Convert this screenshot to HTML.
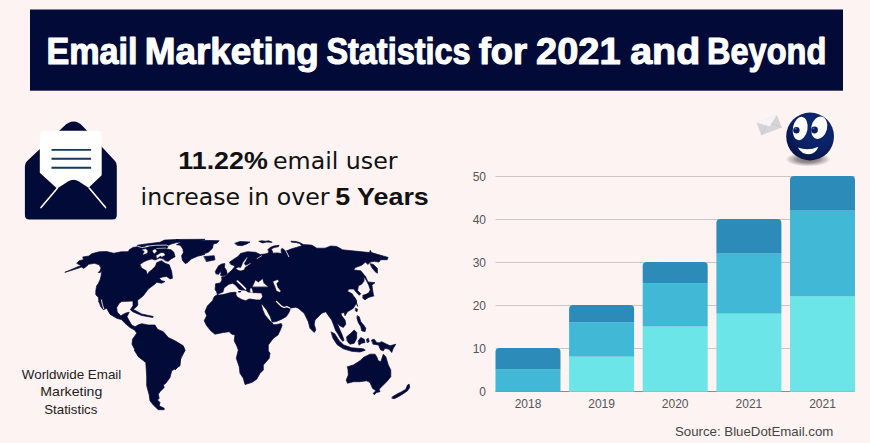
<!DOCTYPE html>
<html lang="en"><head><meta charset="utf-8"><title>Email Marketing Statistics for 2021 and Beyond</title>
<style>
html,body{margin:0;padding:0;background:#fdf3f2;}
body{width:870px;height:443px;overflow:hidden;}
svg{display:block;}
text{white-space:pre;}
</style></head><body>
<svg width="870" height="443" viewBox="0 0 870 443">
<rect width="870" height="443" fill="#fdf3f2"/>
<rect x="30" y="9.5" width="813" height="81.2" fill="#020a38"/>
<text x="46.4" y="64.3" font-family='"Liberation Sans", sans-serif' font-size="37.3" font-weight="bold" fill="#ffffff" text-anchor="start" textLength="91.2" lengthAdjust="spacingAndGlyphs" stroke="#ffffff" stroke-width="1.1" stroke-linejoin="round">Email</text>
<text x="144.7" y="64.3" font-family='"Liberation Sans", sans-serif' font-size="37.3" font-weight="bold" fill="#ffffff" text-anchor="start" textLength="174.2" lengthAdjust="spacingAndGlyphs" stroke="#ffffff" stroke-width="1.1" stroke-linejoin="round">Marketing</text>
<text x="326.4" y="64.3" font-family='"Liberation Sans", sans-serif' font-size="37.3" font-weight="bold" fill="#ffffff" text-anchor="start" textLength="144.2" lengthAdjust="spacingAndGlyphs" stroke="#ffffff" stroke-width="1.1" stroke-linejoin="round">Statistics</text>
<text x="478.7" y="64.3" font-family='"Liberation Sans", sans-serif' font-size="37.3" font-weight="bold" fill="#ffffff" text-anchor="start" textLength="48.5" lengthAdjust="spacingAndGlyphs" stroke="#ffffff" stroke-width="1.1" stroke-linejoin="round">for</text>
<text x="536.1" y="64.3" font-family='"Liberation Sans", sans-serif' font-size="37.3" font-weight="bold" fill="#ffffff" text-anchor="start" textLength="84.5" lengthAdjust="spacingAndGlyphs" stroke="#ffffff" stroke-width="1.1" stroke-linejoin="round">2021</text>
<text x="630.2" y="64.3" font-family='"Liberation Sans", sans-serif' font-size="37.3" font-weight="bold" fill="#ffffff" text-anchor="start" textLength="70.0" lengthAdjust="spacingAndGlyphs" stroke="#ffffff" stroke-width="1.1" stroke-linejoin="round">and</text>
<text x="707.0" y="64.3" font-family='"Liberation Sans", sans-serif' font-size="37.3" font-weight="bold" fill="#ffffff" text-anchor="start" textLength="119.4" lengthAdjust="spacingAndGlyphs" stroke="#ffffff" stroke-width="1.1" stroke-linejoin="round">Beyond</text>
<text x="178.3" y="169.4" font-family='"Liberation Sans", sans-serif' font-size="24" font-weight="bold" fill="#111" text-anchor="start" textLength="89.5" lengthAdjust="spacingAndGlyphs">11.22%</text>
<text x="273" y="169.4" font-family='"DejaVu Sans", "Liberation Sans", sans-serif' font-size="23.3" font-weight="normal" fill="#111" text-anchor="start" textLength="124.5" lengthAdjust="spacingAndGlyphs">email user</text>
<text x="140.6" y="204.7" font-family='"DejaVu Sans", "Liberation Sans", sans-serif' font-size="23.3" font-weight="normal" fill="#111" text-anchor="start" textLength="188.8" lengthAdjust="spacingAndGlyphs">increase in over</text>
<text x="335.2" y="204.7" font-family='"Liberation Sans", sans-serif' font-size="24" font-weight="bold" fill="#111" text-anchor="start" textLength="93.6" lengthAdjust="spacingAndGlyphs">5 Years</text>
<text x="21.8" y="379.2" font-family='"Liberation Sans", sans-serif' font-size="13" font-weight="normal" fill="#222" text-anchor="start" textLength="99.5" lengthAdjust="spacingAndGlyphs">Worldwide Email</text>
<text x="40.3" y="396.1" font-family='"Liberation Sans", sans-serif' font-size="13" font-weight="normal" fill="#222" text-anchor="start" textLength="62" lengthAdjust="spacingAndGlyphs">Marketing</text>
<text x="44.2" y="414" font-family='"Liberation Sans", sans-serif' font-size="13" font-weight="normal" fill="#222" text-anchor="start" textLength="53.2" lengthAdjust="spacingAndGlyphs">Statistics</text>
<text x="675" y="436.2" font-family='"Liberation Sans", sans-serif' font-size="13.2" font-weight="normal" fill="#444" text-anchor="start" textLength="158.3" lengthAdjust="spacingAndGlyphs">Source: BlueDotEmail.com</text>
<g>
<path fill="#020a38" d="M24.9,166 Q24.9,163.2 26.9,161.3 L64,126.2 Q68.85,121.6 73.5,121.6 Q78.57,121.6 83,126.4 L115,161 Q116.8,163 116.8,166 V214.9 Q116.8,219.4 112.3,219.4 H29.4 Q24.9,219.4 24.9,214.9 Z"/>
<path fill="#ffffff" d="M39.8,135.8 Q39.8,130.8 44.8,130.8 H96.7 Q101.7,130.8 101.7,135.8 V175.3 L72.7,202.8 L39.8,172.7 Z"/>
<path fill="#020a38" d="M40.7,207.9 L57.1,188.5 L68,181.4 Q73.45,177.9 78.9,181.4 L89.3,188.2 L105.8,207.9 V212 H40.7 Z"/>
<path fill="none" stroke="#ffffff" stroke-width="1.6" stroke-linecap="round" d="M41,207.6 L57.3,188.3 M89.2,188 L105.6,207.6"/>
<g stroke="#12395e" stroke-width="1.9"><path d="M51.5,149.9 H91.1 M51.5,158.8 H91.1 M51.5,167.8 H91.1"/></g>
</g>
<g stroke-linejoin="round" stroke-linecap="round">
<path fill="#020a38" stroke="#020a38" stroke-width="0.7" d="M65.2,272.2 78.0,266.7 81.2,265.7 76.7,263.3 79.3,260.7 83.5,259.7 82.7,257.0 89.0,256.0 91.8,253.7 99.2,251.8 106.5,251.5 113.8,253.3 121.2,251.8 128.3,251.7 129.2,249.8 133.3,247.3 137.0,247.0 137.4,245.2 148.0,243.7 159.9,242.3 164.5,240.1 176.5,239.5 181.8,240.6 182.0,241.9 176.5,242.6 171.0,244.1 168.2,245.4 167.5,247.6 165.5,248.7 171.0,249.8 173.7,252.1 175.1,256.7 171.0,259.0 168.2,261.3 165.5,260.8 163.6,259.2 158.3,260.3 161.7,260.7 165.0,263.2 169.2,264.8 171.7,271.5 172.5,278.2 170.0,279.0 166.7,276.5 162.5,277.0 159.2,278.2 161.7,280.7 165.0,281.5 161.7,283.2 156.7,282.3 155.0,284.0 148.3,289.0 143.3,295.7 138.3,299.8 137.5,300.0 137.8,305.0 135.8,307.5 133.0,309.3 141.7,314.0 153.3,316.5 152.8,317.5 141.7,315.5 133.3,312.0 130.3,309.7 133.0,305.8 133.0,300.8 133.0,301.0 121.7,301.5 119.2,303.3 116.7,307.5 117.2,312.0 120.8,315.8 125.3,313.2 129.2,312.2 127.0,316.7 129.2,320.8 131.7,325.0 135.0,326.7 138.3,325.0 141.7,325.0 136.7,329.2 135.0,330.3 130.0,327.5 125.0,323.3 121.7,319.7 116.7,318.3 110.0,314.2 106.7,308.3 103.3,309.7 100.8,306.7 98.7,300.8 99.2,302.3 98.3,297.3 95.8,294.8 95.8,290.7 96.7,285.7 98.2,283.7 100.0,280.0 101.0,276.3 101.8,271.0 100.0,272.7 98.2,272.5 100.0,270.7 101.0,268.0 99.2,264.8 94.5,263.3 88.5,264.3 86.7,266.2 83.5,268.5 81.7,267.0 73.3,269.8Z M176.5,239.5 205.0,239.3 200.0,240.3 219.2,240.7 216.7,243.2 213.3,244.0 212.5,248.2 208.3,252.3 203.3,254.0 205.0,254.4 197.6,256.2 191.2,259.0 187.5,262.7 185.2,263.6 182.5,260.4 181.6,255.8 183.4,252.6 182.9,248.9 180.2,245.2 176.5,244.7 181.6,242.0Z M204.2,256.5 214.2,255.7 215.0,259.8 206.7,261.5Z M235.0,243.2 240.0,241.5 250.0,242.0 246.7,244.0 241.7,245.7 237.5,245.3Z M259.1,241.5 262.6,242.9 266.7,242.1 272.2,242.3 268.8,240.8 265.3,241.2 261.9,240.8Z M215.4,271.3 218.6,265.8 221.7,264.0 224.9,263.6 224.4,267.2 226.2,269.9 227.1,273.1 226.7,274.4 224.4,275.8 221.7,276.1 220.5,275.3 221.1,273.1 220.2,271.5 218.7,274.2 216.3,274.0Z M138.3,325.0 141.7,323.7 148.3,325.0 155.0,325.0 157.5,329.2 163.3,331.7 168.3,337.5 175.0,340.8 183.3,345.8 185.0,350.0 182.5,355.0 180.0,360.0 179.2,365.8 175.0,370.0 185.0,350.0 180.8,356.7 180.0,365.8 171.7,370.8 170.0,377.5 165.8,383.3 163.3,385.0 164.2,387.5 160.0,391.7 158.3,394.2 159.2,398.3 157.5,400.0 160.0,402.5 159.2,405.8 164.2,408.3 164.2,409.7 158.3,409.7 153.3,405.0 150.0,400.8 149.2,395.0 146.7,385.8 146.7,376.7 145.8,362.5 138.3,356.7 134.2,350.0 135.0,350.0 132.0,344.2 132.5,339.2 136.7,333.3 135.0,330.3Z M229.7,262.1 233.7,259.2 238.3,256.3 240.6,253.4 247.5,251.7 255.6,252.3 260.2,254.6 264.8,254.0 268.1,253.2 268.8,251.5 267.8,249.8 269.8,247.7 273.6,246.0 279.1,245.3 278.4,246.7 274.3,247.4 271.2,249.1 272.2,250.8 272.9,253.2 277.8,252.9 281.6,253.6 281.2,251.2 281.2,249.1 282.6,248.4 285.7,251.2 290.9,249.1 296.4,247.4 301.9,245.7 299.8,243.6 296.4,242.6 291.6,242.2 290.9,241.2 296.4,241.5 300.5,242.9 303.3,244.6 310.2,245.0 312.2,245.3 316.7,248.2 325.0,248.2 330.8,246.0 336.7,246.5 341.7,249.3 339.5,249.5 369.5,252.6 370.3,250.3 371.4,252.6 388.1,257.4 387.2,259.7 380.6,259.7 379.0,262.1 374.2,261.3 370.3,262.1 367.9,264.5 365.5,262.1 361.6,265.3 355.3,267.6 353.7,270.0 360.8,270.8 364.0,274.8 364.0,281.1 361.6,284.2 358.4,285.8 357.6,290.6 360.8,293.7 359.2,295.3 356.1,292.1 353.7,289.0 349.0,289.0 347.4,291.3 352.1,293.7 355.3,299.2 357.6,306.4 354.2,296.7 356.7,300.8 355.8,304.2 353.3,308.3 347.5,311.7 345.0,315.8 344.2,312.5 340.8,313.3 341.7,315.8 345.0,320.0 345.8,324.2 343.3,327.5 340.0,325.8 337.0,323.3 339.5,328.8 342.3,335.3 344.0,340.3 342.7,341.3 340.0,337.7 338.0,334.0 335.7,330.7 334.0,326.0 331.7,320.0 329.2,316.7 325.8,311.7 321.7,313.3 315.0,320.0 314.2,324.2 315.8,330.0 314.2,332.5 310.0,328.3 308.3,321.7 304.2,313.3 298.3,308.3 293.3,306.3 295.2,307.2 290.2,308.2 289.7,310.8 288.4,313.5 286.1,316.7 281.2,319.4 276.2,321.6 272.1,322.1 270.3,316.7 266.7,309.9 261.9,304.0 261.2,304.0 262.6,309.5 264.9,314.9 269.4,320.3 273.9,324.8 277.1,324.4 281.2,323.5 282.1,325.3 280.7,329.3 278.0,335.0 273.3,338.3 268.3,345.0 268.3,350.8 270.0,353.3 269.2,358.3 263.3,365.0 263.3,370.0 260.0,373.3 256.7,379.2 251.7,382.5 245.0,384.5 243.3,378.3 240.0,373.3 239.2,366.7 236.3,358.3 238.3,350.0 236.7,345.8 234.2,340.8 235.0,335.0 231.7,334.2 229.2,331.7 223.3,332.5 215.0,334.2 210.8,330.8 206.7,325.8 204.2,320.8 206.7,315.8 205.0,311.7 207.5,305.8 212.5,300.8 214.2,296.7 217.4,294.6 216.5,291.6 215.1,289.8 215.6,283.8 220.2,282.9 222.0,280.1 221.6,277.4 222.0,277.0 224.7,276.5 227.2,274.3 229.0,272.7 232.0,270.1 234.3,267.2 234.9,265.9 230.9,264.4Z M238.3,291.0 241.3,291.0 240.4,292.5 238.1,292.5Z M370.3,263.7 373.4,264.5 377.4,268.4 377.4,273.2 375.0,271.6 371.9,267.6Z M362.4,274.0 365.5,276.3 367.9,281.9 375.0,282.7 371.9,285.0 372.7,290.6 373.4,294.5 369.5,296.1 365.5,299.2 363.2,298.5 364.0,295.3 368.7,292.9 370.3,289.8 368.7,285.0 366.3,280.3 363.2,275.5Z M363.3,295.0 373.3,295.0 374.2,295.8 368.3,297.5 365.0,299.7 363.0,298.3Z M355.8,308.3 357.5,309.2 357.0,311.7 355.5,310.8Z M357.5,315.8 359.2,316.7 360.8,321.7 364.2,325.8 365.8,328.3 365.0,331.7 361.7,330.8 360.8,326.7 358.3,322.5 357.0,318.3Z M331.3,332.0 334.7,333.7 339.2,340.8 343.7,345.0 351.7,347.8 363.3,348.8 365.3,350.2 360.0,352.0 351.7,351.3 343.3,348.8 337.2,344.7 333.0,338.3Z M346.7,336.7 350.8,333.3 354.2,330.0 356.7,332.5 356.7,338.3 354.2,343.3 350.0,344.2 347.5,341.7Z M358.3,340.8 360.8,337.5 364.2,339.2 365.0,342.5 361.7,343.3 359.2,345.0Z M366.7,339.2 368.3,338.3 369.2,341.7 367.5,342.5Z M371.7,340.0 374.2,339.2 376.7,342.5 380.0,343.3 378.3,345.0 373.3,344.2Z M378.3,343.3 381.7,341.7 386.7,344.2 390.0,345.8 395.8,344.2 393.3,348.3 391.7,352.5 389.2,349.2 385.0,348.3 383.3,350.8 380.8,350.0 379.2,346.7Z M347.5,366.7 353.3,365.0 360.0,360.8 363.3,357.5 370.0,354.2 375.0,354.2 376.7,356.7 378.3,360.8 380.8,361.7 383.3,354.2 385.8,356.7 388.3,365.0 390.8,370.0 390.8,376.7 386.7,381.7 382.5,385.8 379.2,389.2 380.0,391.7 376.7,392.5 374.2,394.7 373.3,393.3 375.8,390.8 372.5,388.3 370.0,382.5 366.7,380.8 360.0,381.7 353.3,381.7 347.5,383.3 346.2,380.0 348.3,375.0 348.0,370.0Z M392.5,396.7 396.7,394.2 401.7,391.7 405.8,389.2 407.5,385.0 409.2,384.2 409.7,387.5 407.5,390.8 403.3,393.7 398.3,396.7 394.2,398.7 392.2,398.3Z"/>
<path fill="#fdf3f2" stroke="#fdf3f2" stroke-width="0.3" d="M140.6,264.5 143.9,262.2 148.0,260.4 151.7,259.4 155.3,260.4 156.4,262.2 154.9,266.3 151.7,269.6 148.9,271.4 147.5,273.7 146.6,270.5 142.0,267.7Z M155.3,260.4 159.5,258.5 163.6,259.2 159.9,260.8 156.7,262.2Z M142.5,249.8 145.7,248.9 147.5,250.7 147.1,253.0 142.9,254.4 144.8,251.6Z M153.0,250.3 155.3,249.3 156.7,251.2 154.4,253.5 153.0,252.1Z M156.3,255.8 160.9,253.0 163.6,253.0 165.0,254.9 161.8,256.7 160.4,255.8 157.2,258.1Z M247.0,257.5 245.8,260.4 244.0,263.6 245.5,265.7 248.4,264.4 250.7,263.3 247.6,265.5 244.9,267.3 244.0,269.5 241.1,270.4 238.4,270.0 236.2,268.6 238.4,267.6 240.7,267.9 242.0,265.5 243.1,262.6 245.2,259.7Z M218.8,294.2 223.4,292.3 224.5,287.9 228.9,284.7 232.6,283.8 235.3,285.4 239.0,289.8 241.3,290.4 245.5,290.7 248.2,292.5 251.0,293.0 261.3,293.4 262.2,296.7 260.2,299.4 256.5,299.4 249.1,298.5 245.5,300.3 241.8,299.0 237.6,296.7 236.3,294.4 236.7,292.5 235.3,291.8 230.7,292.1 223.4,293.9 218.8,294.6Z M250.1,289.8 251.0,287.9 251.9,289.3 252.8,292.5 250.7,292.7Z M252.8,286.4 255.6,280.6 258.3,282.4 262.5,279.2 263.4,282.9 267.5,286.6Z M273.5,281.5 277.6,280.1 278.6,281.0 276.3,283.8 277.6,287.5 280.4,290.7 279.9,292.1 276.7,290.7 275.3,286.6 274.0,283.8Z"/>
<path fill="none" stroke="#fdf3f2" stroke-width="0.9" d="M101.5,300.0 102.3,304.2 103.7,308.7"/>
<path fill="none" stroke="#fdf3f2" stroke-width="0.8" d="M145.7,246.3 155.3,245.3 166.4,245.1 168.4,245.9"/>
<path fill="none" stroke="#fdf3f2" stroke-width="0.6" d="M156.7,248.5 165.5,248.1"/>
<path fill="none" stroke="#fdf3f2" stroke-width="0.8" d="M137.7,246.3 141.6,247.5 145.7,247.0 148.4,246.3"/>
<path fill="none" stroke="#fdf3f2" stroke-width="1.8" d="M237.4,281.2 241.3,284.7 245.5,288.9"/>
<path fill="none" stroke="#fdf3f2" stroke-width="1.3" d="M276.5,301.5 279.1,303.9 281.8,306.4 284.1,307.5 286.6,306.6 289.9,308.0"/>
<path fill="none" stroke="#fdf3f2" stroke-width="0.9" d="M286.2,251.5 287.8,254.6 288.7,256.6"/>
<path fill="none" stroke="#fdf3f2" stroke-width="0.7" d="M257.1,258.6 261.6,255.8"/>
<path fill="#020a38" d="M238.3,291.0 241.3,291.0 240.4,292.5 238.1,292.5Z"/>
</g>
<rect x="495.5" y="348.0" width="359.5" height="1" fill="#cbc5c4"/>
<rect x="495.5" y="305.0" width="359.5" height="1" fill="#cbc5c4"/>
<rect x="495.5" y="262.0" width="359.5" height="1" fill="#cbc5c4"/>
<rect x="495.5" y="219.0" width="359.5" height="1" fill="#cbc5c4"/>
<rect x="495.5" y="176.0" width="359.5" height="1" fill="#cbc5c4"/>
<text x="486.0" y="395.9" font-family='"Liberation Sans", sans-serif' font-size="12" font-weight="normal" fill="#555" text-anchor="end">0</text>
<text x="486.0" y="352.9" font-family='"Liberation Sans", sans-serif' font-size="12" font-weight="normal" fill="#555" text-anchor="end">10</text>
<text x="486.0" y="309.9" font-family='"Liberation Sans", sans-serif' font-size="12" font-weight="normal" fill="#555" text-anchor="end">20</text>
<text x="486.0" y="266.9" font-family='"Liberation Sans", sans-serif' font-size="12" font-weight="normal" fill="#555" text-anchor="end">30</text>
<text x="486.0" y="223.9" font-family='"Liberation Sans", sans-serif' font-size="12" font-weight="normal" fill="#555" text-anchor="end">40</text>
<text x="486.0" y="180.9" font-family='"Liberation Sans", sans-serif' font-size="12" font-weight="normal" fill="#555" text-anchor="end">50</text>
<rect x="495.5" y="391" width="359.5" height="1" fill="#8e8a8a"/>
<rect x="495.5" y="369.5" width="65" height="22.2" fill="#41b8d5"/>
<path fill="#2d8bba" d="M495.5,369.5 V352.0 Q495.5,348.0 499.5,348.0 H556.5 Q560.5,348.0 560.5,352.0 V369.5 Z"/>
<text x="528.0" y="408.3" font-family='"Liberation Sans", sans-serif' font-size="12" font-weight="normal" fill="#555" text-anchor="middle">2018</text>
<rect x="569.1" y="356.6" width="65" height="35.1" fill="#6ce5e8"/>
<rect x="569.1" y="322.2" width="65" height="34.4" fill="#41b8d5"/>
<path fill="#2d8bba" d="M569.1,322.2 V309.0 Q569.1,305.0 573.1,305.0 H630.1 Q634.1,305.0 634.1,309.0 V322.2 Z"/>
<text x="601.6" y="408.3" font-family='"Liberation Sans", sans-serif' font-size="12" font-weight="normal" fill="#555" text-anchor="middle">2019</text>
<rect x="642.7" y="326.5" width="65" height="65.2" fill="#6ce5e8"/>
<rect x="642.7" y="283.5" width="65" height="43.0" fill="#41b8d5"/>
<path fill="#2d8bba" d="M642.7,283.5 V266.0 Q642.7,262.0 646.7,262.0 H703.7 Q707.7,262.0 707.7,266.0 V283.5 Z"/>
<text x="675.2" y="408.3" font-family='"Liberation Sans", sans-serif' font-size="12" font-weight="normal" fill="#555" text-anchor="middle">2020</text>
<rect x="716.4" y="313.6" width="65" height="78.1" fill="#6ce5e8"/>
<rect x="716.4" y="253.4" width="65" height="60.2" fill="#41b8d5"/>
<path fill="#2d8bba" d="M716.4,253.4 V223.0 Q716.4,219.0 720.4,219.0 H777.4 Q781.4,219.0 781.4,223.0 V253.4 Z"/>
<text x="748.9" y="408.3" font-family='"Liberation Sans", sans-serif' font-size="12" font-weight="normal" fill="#555" text-anchor="middle">2021</text>
<rect x="790.0" y="296.4" width="65" height="95.3" fill="#6ce5e8"/>
<rect x="790.0" y="210.4" width="65" height="86.0" fill="#41b8d5"/>
<path fill="#2d8bba" d="M790.0,210.4 V180.0 Q790.0,176.0 794.0,176.0 H851.0 Q855.0,176.0 855.0,180.0 V210.4 Z"/>
<text x="822.5" y="408.3" font-family='"Liberation Sans", sans-serif' font-size="12" font-weight="normal" fill="#555" text-anchor="middle">2021</text>
<defs>
<radialGradient id="ball" cx="0.62" cy="0.3" r="0.85"><stop offset="0" stop-color="#0c2a78"/><stop offset="0.55" stop-color="#0a2164"/><stop offset="0.85" stop-color="#061347"/><stop offset="1" stop-color="#040c35"/></radialGradient>
<radialGradient id="shad" cx="0.5" cy="0.5" r="0.5"><stop offset="0" stop-color="#6e686b" stop-opacity="1"/><stop offset="0.5" stop-color="#8f888a" stop-opacity="0.9"/><stop offset="0.8" stop-color="#bdb5b5" stop-opacity="0.55"/><stop offset="1" stop-color="#fdf3f2" stop-opacity="0"/></radialGradient>
</defs>
<ellipse cx="808" cy="159.3" rx="24" ry="7.5" fill="url(#shad)"/>
<circle cx="810.1" cy="136.5" r="23.9" fill="url(#ball)"/>
<ellipse cx="800.2" cy="128.5" rx="7.3" ry="11.8" fill="#ffffff" transform="rotate(10 800.2 128.5)"/>
<ellipse cx="819.2" cy="127.7" rx="7.9" ry="11.4" fill="#ffffff" transform="rotate(14 819.2 127.7)"/>
<circle cx="796.4" cy="130.2" r="3.2" fill="#0a1f5c"/>
<circle cx="814.5" cy="130" r="3.4" fill="#0a1f5c"/>
<circle cx="795.6" cy="128.6" r="0.9" fill="#5a6fb0"/>
<circle cx="813.6" cy="128.3" r="0.9" fill="#5a6fb0"/>
<path fill="#ffffff" d="M797.9,147.6 Q808,151.5 818.4,146.8 Q815.5,154.3 808.6,154.3 Q801.5,154.3 797.9,147.6 Z"/>
<g transform="translate(756.5 122.6) rotate(-21)">
<rect x="0" y="0" width="21.8" height="13.5" fill="#d6d4d9"/>
<path d="M0,0 H21.8 L10.9,8.3 Z" fill="#f6f4f6"/>
<path d="M0,13.5 L8,6 M21.8,13.5 L13.8,6" stroke="#c4c2c9" stroke-width="0.6" fill="none"/>
</g>
</svg>
</body></html>
